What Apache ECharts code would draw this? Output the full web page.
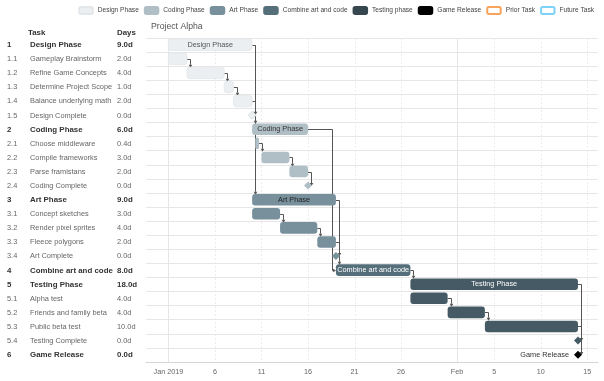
<!DOCTYPE html>
<html><head><meta charset="utf-8">
<script src="https://cdn.jsdelivr.net/npm/echarts@6/dist/echarts.min.js"></script>
<style>html,body{margin:0;padding:0;background:#fff}#c{width:604px;height:381px}</style>
</head><body><div id="c"></div>
<script>
const taskNums = ['1','1.1','1.2','1.3','1.4','1.5','2','2.1','2.2','2.3','2.4','3','3.1','3.2','3.3','3.4','4','5','5.1','5.2','5.3','5.4','6'];
const taskNames = ['Design Phase','Gameplay Brainstorm','Refine Game Concepts','Determine Project Scope','Balance underlying math','Design Complete','Coding Phase','Choose middleware','Compile frameworks','Parse framistans','Coding Complete','Art Phase','Concept sketches','Render pixel sprites','Fleece polygons','Art Complete','Combine art and code','Testing Phase','Alpha test','Friends and family beta','Public beta test','Testing Complete','Game Release'];
const taskDays = ['9.0d','2.0d','4.0d','1.0d','2.0d','0.0d','6.0d','0.4d','3.0d','2.0d','0.0d','9.0d','3.0d','4.0d','2.0d','0.0d','8.0d','18.0d','4.0d','4.0d','10.0d','0.0d','0.0d'];
const taskStart = ['2019-01-01','2019-01-01','2019-01-03','2019-01-07','2019-01-08','2019-01-10','2019-01-10','2019-01-10 08:00','2019-01-11','2019-01-14','2019-01-16','2019-01-10','2019-01-10','2019-01-13','2019-01-17','2019-01-19','2019-01-19','2019-01-27','2019-01-27','2019-01-31','2019-02-04','2019-02-14','2019-02-14'];
const taskEnd = ['2019-01-10','2019-01-03','2019-01-07','2019-01-08','2019-01-10','2019-01-10','2019-01-16','2019-01-10 17:36','2019-01-14','2019-01-16','2019-01-16','2019-01-19','2019-01-13','2019-01-17','2019-01-19','2019-01-19','2019-01-27','2019-02-14','2019-01-31','2019-02-04','2019-02-14','2019-02-14','2019-02-14'];
const taskPhase = [0,0,0,0,0,0,1,1,1,1,1,2,2,2,2,2,3,4,4,4,4,4,5];
const taskIsParent = [1,0,0,0,0,0,1,0,0,0,0,1,0,0,0,0,1,1,0,0,0,0,1];
const taskIsMilestone = [0,0,0,0,0,1,0,0,0,0,1,0,0,0,0,1,0,0,0,0,0,1,1];
const dependencies = [['1','2'],['1','3'],['1.1','1.2'],['1.2','1.3'],['1.3','1.4'],['1.4','1.5'],
  ['2.1','2.2'],['2.2','2.3'],['2.3','2.4'],['3.1','3.2'],['3.2','3.3'],['3.3','3.4'],
  ['2','4'],['3','4'],['4','5'],['5.1','5.2'],['5.2','5.3'],['5.3','5.4'],['5','6']];
const legendNames = ['Design Phase','Coding Phase','Art Phase','Combine art and code','Testing phase','Game Release','Prior Task','Future Task'];
const tickDates = ['2019-01-01','2019-01-06','2019-01-11','2019-01-16','2019-01-21','2019-01-26','2019-02-01','2019-02-05','2019-02-10','2019-02-15'];
const tickLabels = ['Jan 2019','6','11','16','21','26','Feb','5','10','15'];
const axisMin = '2018-12-29 14:24';
const axisMax = '2019-02-16 03:36';

const phaseColors = ['#eceff1','#b0bec5','#78909c','#546e7a','#455a64','#000000'];
const phaseLabelColors = ['#555555','#333333','#222222','#ffffff','#ffffff','#333333'];
const legendColors = ['#eceff1','#b0bec5','#78909c','#546e7a','#37474f','#000000','#ffffff','#ffffff'];
const legendBorders = ['#e3e7ea','#b0bec5','#78909c','#546e7a','#37474f','#000000','#f7a35c','#7cd3f7'];
const F = '"Liberation Sans", Arial, sans-serif';

function toTs(s) {
  const m = s.match(/(\d+)-(\d+)-(\d+)(?:\s+(\d+):(\d+))?/);
  return new Date(+m[1], +m[2]-1, +m[3], m[4] ? +m[4] : 0, m[5] ? +m[5] : 0).getTime();
}
const tickTs = tickDates.map(toTs);
const idx = n => taskNums.indexOf(n);

const taskData = taskNums.map((n, i) => [i, toTs(taskStart[i]), toTs(taskEnd[i])]);
const linkData = dependencies.map(([a, b]) => {
  const s = idx(a), t = idx(b);
  return [toTs(taskEnd[s]), s, toTs(taskStart[t]), t];
});
const gridData = tickTs.map((ts, k) => [ts, 0, new Date(ts).getDate() === 1 ? 1 : 0]);

function renderGrid(params, api) {
  const x = Math.round(api.coord([api.value(0), 0])[0]) + 0.5;
  const cs = params.coordSys;
  const major = api.value(2) === 1;
  return {type: 'line', shape: {x1: x, y1: cs.y, x2: x, y2: cs.y + cs.height},
    style: {stroke: major ? '#e6e6e6' : '#ececec', lineWidth: 1, lineDash: major ? null : [2, 2]}};
}

function renderTask(params, api) {
  const i = api.value(0);
  const p0 = api.coord([api.value(1), i]);
  const p1 = api.coord([api.value(2), i]);
  const bh = api.size([0, 1])[1];
  const cy = p0[1] - 0.3;
  const ph = taskPhase[i];
  if (taskIsMilestone[i]) {
    const r = 4;
    const cx = p0[0];
    const children = [{type: 'polygon', shape: {points: [[cx, cy - r], [cx + r, cy], [cx, cy + r], [cx - r, cy]]},
      style: {fill: phaseColors[ph], stroke: ph === 0 ? '#dde2e5' : null, lineWidth: 1}}];
    if (ph === 5) {
      children.push({type: 'text', style: {text: taskNames[i], x: cx - 9, y: cy, align: 'right', verticalAlign: 'middle',
        fill: '#333', font: '7.3px ' + F}});
    }
    return {type: 'group', children};
  }
  const h = bh * 0.82;
  const w = Math.max(p1[0] - p0[0], 2.5);
  const children = [{type: 'rect', shape: {x: p0[0], y: cy - h / 2, width: w, height: h, r: 3},
    style: {fill: phaseColors[ph], stroke: ph === 0 ? '#e2e6e9' : null, lineWidth: 0.8}}];
  if (taskIsParent[i]) {
    children.push({type: 'text', style: {text: taskNames[i], x: p0[0] + w / 2, y: cy, align: 'center', verticalAlign: 'middle',
      fill: phaseLabelColors[ph], font: '7.3px ' + F}});
  }
  return {type: 'group', children};
}

function renderLink(params, api) {
  const s = api.coord([api.value(0), api.value(1)]);
  const t = api.coord([api.value(2), api.value(3)]);
  const bh = api.size([0, 1])[1];
  const tRow = api.value(3);
  const sx = s[0], sy = Math.round(s[1] - 0.3) + 0.5;
  const tx = t[0], ty = Math.round(t[1] - 0.3) + 0.5;
  let pts, arrow;
  if (tx - sx > 8) {
    const vx = Math.round(tx - 4) + 0.5;
    pts = [[sx, sy], [vx, sy], [vx, ty], [tx - 3, ty]];
    arrow = [[tx, ty], [tx - 3, ty - 1.8], [tx - 3, ty + 1.8]];
  } else {
    const vx = Math.round(sx + 3) + 0.5;
    let top;
    if (taskIsMilestone[tRow]) top = ty - Math.max(4 - Math.abs(vx - tx), 0.5);
    else top = ty - bh * 0.41;
    pts = [[sx, sy], [vx, sy], [vx, top - 3]];
    arrow = [[vx, top], [vx - 1.8, top - 3], [vx + 1.8, top - 3]];
  }
  return {type: 'group', children: [
    {type: 'polyline', shape: {points: pts}, style: {stroke: '#555', lineWidth: 1, fill: null}},
    {type: 'polygon', shape: {points: arrow}, style: {fill: '#555'}}
  ]};
}

const rich = {};
[['n', 23], ['t', 87], ['d', null]].forEach(([k, w]) => {
  rich[k] = {fontFamily: F, fontSize: 7.4, color: '#666'};
  rich[k + 'B'] = {fontFamily: F, fontSize: 7.9, color: '#333', fontWeight: 'bold'};
  if (w) { rich[k].width = w; rich[k + 'B'].width = w; }
});

const series = [
  {type: 'custom', name: 'grid', data: gridData, renderItem: renderGrid, encode: {x: 0, y: 1}, z: 1, silent: true},
  {type: 'custom', name: 'links', data: linkData, renderItem: renderLink, encode: {x: [0, 2], y: [1, 3]}, z: 2, silent: true},
  {type: 'custom', name: 'tasks', data: taskData, renderItem: renderTask, encode: {x: [1, 2], y: 0}, z: 3}
];
legendNames.forEach((n, k) => series.push({type: 'bar', name: n, data: [],
  itemStyle: {color: legendColors[k], borderColor: legendBorders[k], borderWidth: 1}}));

function tickLabel(v) {
  let b = 0, bd = Infinity;
  tickTs.forEach((t, k) => { const d = Math.abs(t - v); if (d < bd) { bd = d; b = k; } });
  return bd < 3600e3 ? tickLabels[b] : '';
}

const chart = echarts.init(document.getElementById('c'), null, {renderer: 'canvas'});
chart.setOption({
  animation: false,
  backgroundColor: '#fff',
  title: [
    {text: 'Project Alpha', left: 151, top: 22, padding: 0, textStyle: {fontFamily: F, fontSize: 8.7, fontWeight: 'normal', color: '#555'}},
    {text: 'Task', left: 28, top: 29, padding: 0, textStyle: {fontFamily: F, fontSize: 7.9, fontWeight: 'bold', color: '#333'}},
    {text: 'Days', left: 117, top: 29, padding: 0, textStyle: {fontFamily: F, fontSize: 7.9, fontWeight: 'bold', color: '#333'}}
  ],
  legend: {data: legendNames, right: 10, top: 6, itemWidth: 13.5, itemHeight: 7, itemGap: 5, icon: 'roundRect',
    selectedMode: false, padding: 0, textStyle: {fontFamily: F, fontSize: 6.6, color: '#444'}},
  grid: {left: 146, right: 6, top: 38, bottom: 19, containLabel: false},
  xAxis: {type: 'value', min: toTs(axisMin), max: toTs(axisMax), scale: true,
    axisLine: {show: true, lineStyle: {color: '#d6d6d6'}},
    axisTick: {show: false}, splitLine: {show: false},
    axisLabel: {customValues: tickTs, margin: 7, fontFamily: F, fontSize: 7.2, color: '#666', hideOverlap: false,
      formatter: tickLabel}},
  yAxis: {type: 'category', inverse: true, data: taskNums,
    axisLine: {show: false}, axisTick: {show: false},
    splitLine: {show: true, lineStyle: {color: '#e6e6e6'}},
    axisLabel: {interval: 0, align: 'left', margin: 139, rich,
      formatter: (v, i) => { const b = taskIsParent[i] ? 'B' : ''; return `{n${b}|${taskNums[i]}}{t${b}|${taskNames[i]}}{d${b}|${taskDays[i]}}`; }}},
  series
});
</script></body></html>
